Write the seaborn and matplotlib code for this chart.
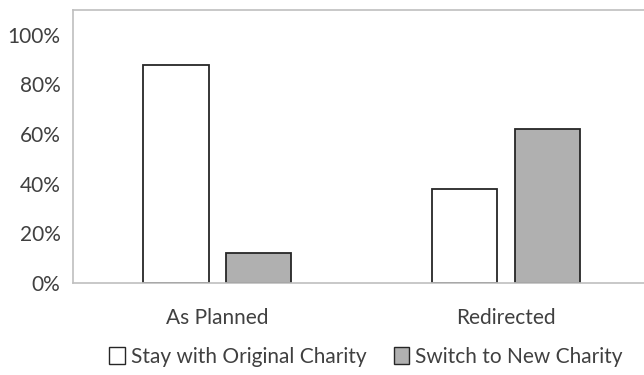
import matplotlib.pyplot as plt
import pandas as pd
import seaborn as sns
from matplotlib.ticker import PercentFormatter


CATEGORIES = ['As Planned', 'Redirected']
SERIES = ['Stay with Original Charity', 'Switch to New Charity']
STAY = [0.88, 0.38]
SWITCH = [0.12, 0.62]
Y_TICKS = [0.0, 0.2, 0.4, 0.6, 0.8, 1.0]

TEXT_COLOR = '#404040'
FRAME_COLOR = '#bfbfbf'


def build_frame():
    df = pd.DataFrame({'Outcome': CATEGORIES,
                       SERIES[0]: STAY,
                       SERIES[1]: SWITCH})
    df = df.melt(id_vars='Outcome', var_name='Choice', value_name='Share')
    return df


def plot_chart(df):
    sns.set_style('white')
    plt.rcParams['font.family'] = ['Lato', 'DejaVu Sans']

    fig = plt.figure(figsize=(6.44, 3.75), dpi=100)
    ax = fig.add_axes([73 / 644, 1 - 283 / 375, 580 / 644, 273 / 375])

    sns.barplot(data=df,
                x='Outcome',
                y='Share',
                hue='Choice',
                hue_order=SERIES,
                palette=['white', '#b0b0b0'],
                edgecolor='#262626',
                linewidth=1.3,
                width=0.573,
                gap=0.21,
                ax=ax)

    ax.set_xlim(-0.5, 1.51)
    ax.set_ylim(0, 1.1)
    ax.set_yticks(Y_TICKS)
    ax.yaxis.set_major_formatter(PercentFormatter(xmax=1.0, decimals=0))
    ax.set_xlabel('')
    ax.set_ylabel('')
    ax.tick_params(axis='both', length=0, labelsize=15, colors=TEXT_COLOR)
    ax.tick_params(axis='x', pad=18)
    ax.tick_params(axis='y', pad=9)

    for side in ['left', 'top', 'bottom']:
        ax.spines[side].set_color(FRAME_COLOR)
        ax.spines[side].set_linewidth(1.2)
    ax.spines['right'].set_visible(False)

    handles, labels = ax.get_legend_handles_labels()
    for h in handles:
        h.set_linewidth(1.0)
    ax.legend(handles, labels,
              loc='center',
              bbox_to_anchor=(366 / 644, 1 - 357 / 375),
              bbox_transform=fig.transFigure,
              ncol=2,
              frameon=False,
              fontsize=15,
              labelcolor=TEXT_COLOR,
              handlelength=0.75,
              handleheight=0.9,
              handletextpad=0.3,
              columnspacing=1.3)

    fig.savefig('out.png', dpi=100)
    plt.close(fig)


def main():
    df = build_frame()
    plot_chart(df)


if __name__ == '__main__':
    main()
